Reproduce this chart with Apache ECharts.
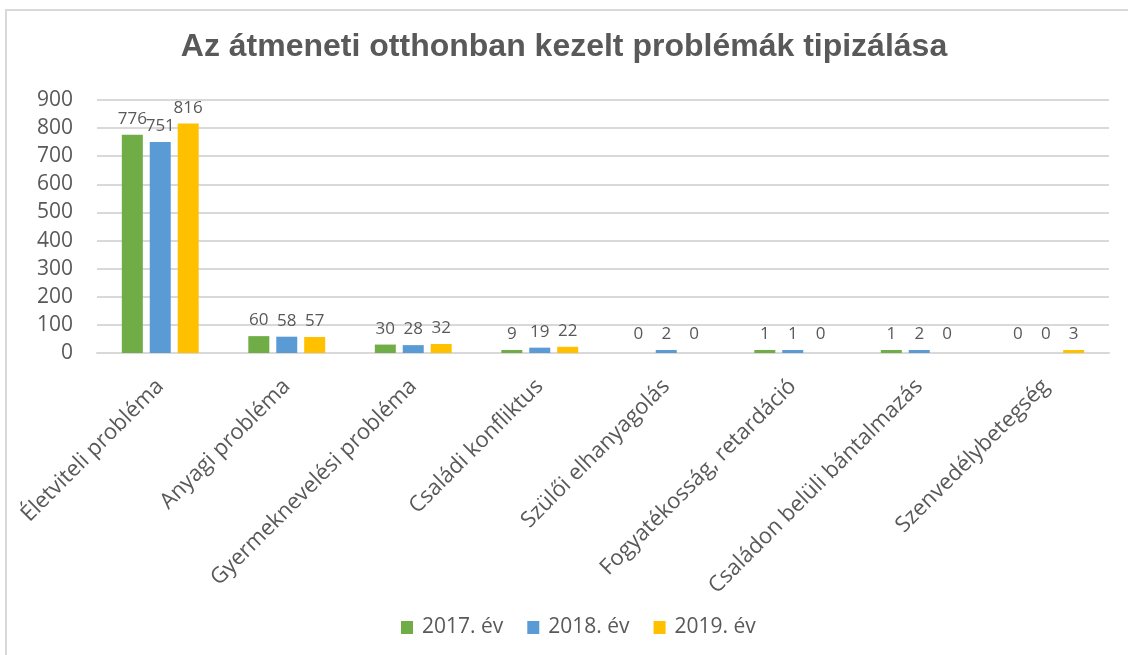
<!DOCTYPE html>
<html>
<head>
<meta charset="utf-8">
<script src="https://cdn.jsdelivr.net/npm/echarts@6/dist/echarts.min.js"></script>
<style>
  * { margin: 0; padding: 0; }
  #container { width: 1128px; height: 655px; background: #fff; }
</style>
</head>
<body>
<div id="container"></div>
<script>
  var categories = ['Életviteli probléma', 'Anyagi probléma', 'Gyermeknevelési probléma', 'Családi konfliktus',
                    'Szülői elhanyagolás', 'Fogyatékosság, retardáció', 'Családon belüli bántalmazás', 'Szenvedélybetegség'];
  var years = ['2017. év', '2018. év', '2019. év'];
  var values2017 = [776, 60, 30, 9, 0, 1, 1, 0];
  var values2018 = [751, 58, 28, 19, 2, 1, 2, 0];
  var values2019 = [816, 57, 32, 22, 0, 0, 0, 3];
  var colors = ['#70AD47', '#5B9BD5', '#FFC000'];
  var textColor = '#595959';
  var font = '"Open Sans", sans-serif';

  var chart = echarts.init(document.getElementById('container'));

  var allValues = [values2017, values2018, values2019];
  var series = [];
  for (var i = 0; i < years.length; i++) {
    // nulla értéknél ne legyen látható oszlop, csak a felirat
    var items = allValues[i].map(function (v) {
      return v === 0 ? { value: v, itemStyle: { color: 'rgba(0,0,0,0)' } } : v;
    });
    series.push({
      name: years[i],
      type: 'bar',
      data: items,
      barWidth: 21,
      barGap: '33%',
      barMinHeight: 3,
      itemStyle: { color: colors[i] },
      label: {
        show: true,
        position: 'top',
        distance: 7,
        color: textColor,
        fontFamily: font,
        fontSize: 17
      }
    });
  }

  var option = {
    animation: false,
    color: colors,
    graphic: [{
      type: 'rect',
      shape: { x: 6, y: 10, width: 1200, height: 700 },
      style: { fill: 'none', stroke: '#D9D9D9', lineWidth: 2 },
      silent: true
    }],
    title: {
      text: 'Az átmeneti otthonban kezelt problémák tipizálása',
      left: 'center',
      top: 26,
      textStyle: {
        fontFamily: '"Liberation Sans", Arial, sans-serif',
        fontWeight: 'bold',
        fontSize: 32,
        color: textColor
      }
    },
    legend: {
      bottom: 12,
      left: 396,
      itemWidth: 12,
      itemHeight: 13,
      itemGap: 24,
      icon: 'rect',
      textStyle: { fontFamily: font, fontSize: 21, color: textColor, padding: [0, 0, 0, 4] }
    },
    grid: { left: 97, right: 19, top: 100, bottom: 302 },
    xAxis: {
      type: 'category',
      data: categories,
      axisLine: { lineStyle: { color: '#D9D9D9', width: 2 } },
      axisTick: { show: false },
      axisLabel: {
        interval: 0,
        rotate: 45,
        margin: 30,
        color: textColor,
        fontFamily: font,
        fontSize: 22
      }
    },
    yAxis: {
      type: 'value',
      min: 0,
      max: 900,
      interval: 100,
      axisLine: { show: false },
      axisTick: { show: false },
      splitLine: { lineStyle: { color: '#D9D9D9', width: 2 } },
      axisLabel: { margin: 24, color: textColor, fontFamily: font, fontSize: 21 }
    },
    series: series
  };
  chart.setOption(option);
</script>
</body>
</html>
